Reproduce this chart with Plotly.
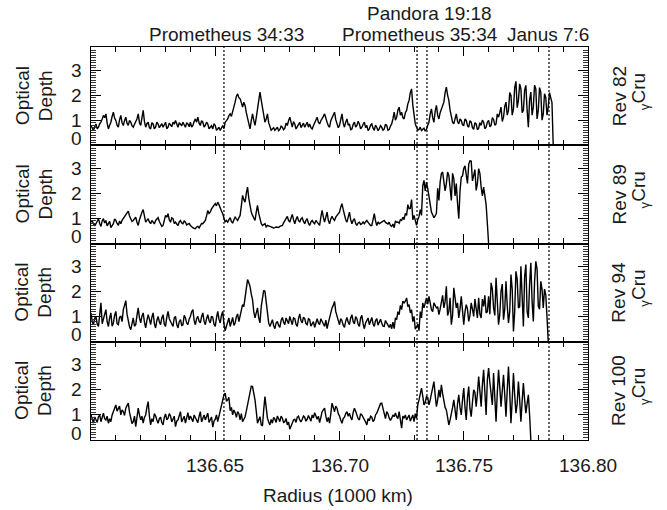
import plotly.graph_objects as go
from plotly.subplots import make_subplots

# ---------------- data ----------------
# Each profile is read at radii RADIUS_START + i*RADIUS_STEP (TAU_xx) and at
# the half-way radii RADIUS_START + (i+0.5)*RADIUS_STEP (TAU_xx_MID).
RADIUS_START = 136.600   # 1000 km
RADIUS_STEP = 0.001      # 1000 km

TAU_82 = [
    0.79, 0.59, 0.85, 0.72, 0.92, 1.19, 1.25, 0.65, 0.92, 1.32,
    0.99, 0.72, 1.19, 0.79, 1.12, 0.79, 0.92, 0.72, 0.92, 1.25,
    0.79, 1.39, 0.72, 0.92, 0.65, 0.85, 0.72, 0.85, 0.79, 0.72,
    0.92, 0.72, 0.79, 0.92, 0.99, 0.72, 0.85, 0.92, 0.72, 0.85,
    0.92, 0.79, 1.05, 1.12, 0.79, 0.92, 0.79, 0.85, 0.72, 0.65,
    0.79, 0.65, 0.59, 0.79, 0.92, 1.05, 1.25, 1.32, 1.72, 2.05,
    1.85, 1.52, 1.59, 1.05, 0.65, 1.25, 0.79, 1.45, 2.12, 1.52,
    0.92, 1.25, 0.72, 0.65, 0.59, 0.72, 0.63, 0.72, 0.68, 0.79,
    1.12, 0.72, 0.85, 0.72, 0.92, 0.79, 0.72, 0.92, 0.85, 0.65,
    0.92, 1.12, 0.85, 1.05, 1.25, 0.92, 0.72, 1.12, 1.32, 0.85,
    0.79, 1.25, 0.72, 1.05, 0.85, 0.65, 0.92, 0.79, 0.85, 0.72,
    0.92, 0.79, 0.65, 0.85, 0.59, 0.72, 0.65,
    0.72, 0.65, 0.79, 0.63, 0.85, 1.32, 1.12, 1.52, 1.32, 1.05,
    1.39, 1.79, 2.25, 1.12, 0.72, 0.63, 0.59, 0.68, 0.63, 0.92,
    1.45, 0.92, 1.59, 1.05, 1.45, 1.72, 2.32, 1.79, 1.12, 0.85,
    1.25, 0.85, 0.99, 0.79, 0.99, 0.72, 0.92, 0.63, 0.85, 0.68,
    0.79, 0.92, 0.72, 0.99, 0.79, 1.03, 0.85, 1.12, 1.52, 1.12,
    1.72, 1.39, 1.99, 1.45, 2.55, 1.79, 2.25, 1.39, 2.39, 0.72,
    2.12, 1.52, 2.25, 1.39, 2.12, 1.25, 1.92, 1.52, 1.85, 0.00,
]
TAU_82_MID = [
    0.70, 0.74, 0.66, 0.86, 1.05, 1.10, 0.88, 0.80, 1.15, 1.08,
    0.80, 1.02, 0.90, 0.98, 0.88, 0.99, 0.78, 0.84, 1.05, 0.90,
    1.10, 0.95, 0.86, 0.70, 0.90, 0.66, 0.92, 0.70, 0.86, 0.82,
    0.66, 0.88, 0.74, 0.84, 0.80, 0.90, 0.78, 0.80, 0.90, 0.74,
    0.72, 0.95, 0.92, 0.88, 0.98, 0.72, 0.92, 0.66, 0.78, 0.86,
    0.60, 0.72, 0.70, 0.66, 0.98, 1.18, 1.15, 1.50, 1.95, 1.90,
    1.70, 1.72, 1.30, 0.80, 0.98, 1.00, 1.10, 1.85, 1.80, 1.10,
    1.05, 0.90, 0.60, 0.70, 0.66, 0.58, 0.76, 0.62, 0.88, 0.98,
    0.92, 0.94, 0.65, 0.82, 0.70, 0.88, 0.80, 0.72, 0.70, 0.78,
    1.00, 0.92, 0.98, 1.15, 1.02, 0.78, 0.98, 1.22, 1.02, 0.70,
    1.05, 0.88, 0.92, 0.80, 0.62, 0.84, 0.72, 0.96, 0.66, 0.84,
    0.70, 0.58, 0.80, 0.68, 0.80, 0.58, 0.78, 0.60, 0.84, 0.60,
    0.76, 1.05, 1.00, 1.40, 1.20, 1.10, 1.30, 1.65, 2.10, 1.60,
    0.85, 0.60, 0.72, 0.62, 0.56, 0.80, 1.25, 1.10, 1.35, 1.20,
    1.30, 1.55, 2.10, 2.00, 1.40, 0.92, 1.10, 0.95, 1.05, 0.82,
    1.05, 0.78, 0.98, 0.70, 0.90, 0.62, 0.90, 1.00, 0.66, 0.92,
    0.74, 1.10, 0.80, 1.25, 1.30, 0.95, 1.55, 1.20, 2.10, 1.20,
    2.30, 1.50, 2.45, 1.30, 2.20, 1.40, 1.80, 1.20, 2.40, 1.05,
    2.30, 1.00, 2.05, 1.20, 2.10, 1.70,
]

TAU_89 = [
    0.85, 0.79, 0.79, 0.99, 0.68, 0.99, 0.92, 0.79, 0.63, 0.79,
    0.92, 0.72, 0.79, 0.99, 1.12, 1.29, 0.99, 0.92, 1.05, 0.72,
    1.12, 1.35, 0.85, 0.99, 0.79, 0.85, 0.92, 1.03, 0.79, 0.72,
    1.12, 1.19, 0.85, 0.99, 0.85, 0.72, 0.92, 0.79, 0.85, 0.79,
    0.72, 0.63, 0.59, 0.68, 0.72, 0.79, 0.92, 1.32, 1.25, 1.45,
    1.59, 1.65, 1.39, 1.19, 0.85, 0.85, 1.03, 0.81, 1.05, 0.92,
    1.12, 1.92, 1.65, 2.25, 1.45, 1.12, 0.92, 1.52, 0.99, 0.72,
    0.79, 0.72, 0.68, 0.65, 0.63, 0.65, 0.68, 0.72, 0.92, 1.08,
    0.85, 1.16, 0.79, 1.08, 0.85, 1.03, 0.79, 0.99, 0.72, 0.92,
    0.79, 0.85, 0.72, 1.32, 0.85, 1.25, 0.79, 1.08, 0.92, 1.12,
    1.25, 1.59, 1.12, 0.85, 1.25, 0.79, 0.99, 0.72, 0.85, 0.79,
    0.79, 0.92, 0.79, 0.72, 1.19, 0.72, 0.79,
    0.85, 0.92, 0.79, 0.85, 0.68, 0.63, 0.85, 0.81, 0.92, 0.95,
    1.12, 1.39, 1.75, 1.12, 0.72, 1.08, 1.12, 2.52, 2.45, 1.85,
    1.25, 1.03, 1.21, 1.72, 2.79, 2.55, 2.39, 2.72, 1.72, 2.59,
    2.39, 0.99, 2.65, 2.99, 2.65, 3.16, 3.29, 2.72, 2.12, 2.99,
    2.25, 2.25, 1.55, 0.00,
]
TAU_89_MID = [
    0.90, 0.70, 0.92, 0.80, 0.90, 0.82, 0.70, 0.88, 0.74, 0.98,
    0.80, 0.90, 0.92, 1.05, 1.20, 1.10, 0.88, 0.98, 0.85, 0.95,
    1.25, 1.05, 0.92, 0.86, 0.92, 0.78, 1.00, 0.88, 0.68, 0.95,
    1.05, 0.95, 1.02, 0.80, 0.78, 0.86, 0.82, 0.90, 0.74, 0.80,
    0.66, 0.60, 0.66, 0.62, 0.80, 0.86, 1.10, 1.20, 1.38, 1.55,
    1.50, 1.55, 1.30, 1.00, 0.92, 0.95, 0.88, 0.95, 0.98, 1.02,
    1.50, 1.75, 2.00, 1.80, 1.25, 1.00, 1.25, 1.20, 0.80, 0.74,
    0.66, 0.70, 0.64, 0.62, 0.66, 0.64, 0.70, 0.82, 1.00, 0.92,
    1.02, 0.95, 0.96, 0.92, 0.98, 0.88, 0.92, 0.80, 0.86, 0.84,
    0.92, 0.76, 1.05, 1.05, 1.05, 0.92, 0.98, 0.98, 1.05, 1.20,
    1.45, 1.35, 0.95, 1.05, 0.95, 0.92, 0.80, 0.82, 0.76, 0.86,
    0.86, 0.84, 0.72, 1.00, 0.90, 0.86, 0.82, 0.86, 0.84, 0.78,
    0.72, 0.78, 0.90, 0.86, 0.95, 1.05, 1.20, 1.55, 1.40, 0.95,
    0.88, 0.95, 1.35, 2.30, 2.10, 2.20, 1.50, 1.15, 1.10, 2.20,
    2.45, 2.85, 2.10, 2.85, 2.20, 2.80, 1.90, 1.60, 2.10, 2.70,
    3.10, 2.40, 3.30, 2.50, 2.95, 2.40, 2.80, 1.90, 1.95, 0.80,
]

TAU_94 = [
    1.15, 0.68, 1.01, 0.61, 1.55, 0.88, 1.28, 0.61, 1.15, 0.75,
    1.21, 0.68, 1.01, 1.28, 1.64, 0.81, 0.48, 0.95, 0.68, 1.35,
    0.75, 1.15, 0.55, 1.08, 0.68, 1.15, 0.55, 1.01, 0.68, 1.08,
    0.61, 1.21, 0.81, 0.61, 1.01, 0.55, 0.88, 0.68, 0.95, 0.68,
    1.01, 1.28, 0.68, 1.01, 0.75, 1.15, 0.68, 1.08, 0.75, 0.97,
    0.61, 1.21, 0.75, 1.21, 0.44, 0.75, 0.61, 0.97, 0.75, 1.11,
    1.01, 1.48, 1.75, 2.48, 2.21, 1.68, 0.95, 1.35, 0.75, 1.81,
    2.01, 1.01, 0.61, 0.88, 0.52, 0.81, 0.57, 0.97, 0.68, 0.84,
    1.01, 0.68, 0.92, 0.61, 1.11, 0.75, 0.92, 0.68, 0.88, 0.71,
    0.57, 0.92, 0.68, 0.81, 0.61, 0.52, 0.97, 1.35, 1.61, 1.01,
    0.68, 0.84, 0.57, 0.97, 0.68, 1.08, 0.71, 0.92, 0.61, 1.05,
    0.52, 0.84, 0.68, 0.97, 0.61, 0.92, 0.75,
    0.75, 0.61, 0.75, 0.57, 0.52, 0.52, 0.88, 1.08, 1.28, 1.55,
    1.75, 1.48, 1.28, 1.01, 0.61, 0.44, 0.95, 1.35, 1.75, 1.81,
    1.28, 1.55, 1.35, 1.08, 1.68, 1.35, 2.21, 1.21, 0.68, 2.15,
    1.35, 0.95, 1.81, 0.68, 1.48, 0.81, 1.55, 1.01, 1.35, 1.75,
    0.95, 1.41, 1.15, 1.81, 2.35, 1.35, 2.55, 0.68, 2.01, 0.88,
    2.41, 0.75, 2.68, 0.41, 2.81, 1.35, 3.01, 0.61, 3.08, 0.95,
    3.15, 0.81, 3.21, 1.41, 2.41, 1.35, 1.88, 0.00,
]
TAU_94_MID = [
    0.80, 0.95, 0.70, 1.10, 0.72, 1.10, 0.80, 0.95, 0.62, 1.05,
    0.72, 0.98, 0.80, 1.45, 1.10, 0.60, 0.80, 0.62, 1.05, 0.95,
    1.02, 0.78, 0.85, 0.90, 0.98, 0.72, 0.85, 0.80, 0.95, 0.70,
    0.98, 0.92, 0.70, 0.95, 0.70, 0.80, 0.65, 1.05, 0.75, 0.90,
    1.20, 0.85, 0.92, 0.82, 1.00, 0.82, 0.92, 0.85, 1.02, 0.70,
    0.95, 0.90, 1.05, 0.70, 0.62, 0.95, 0.85, 0.65, 1.00, 0.80,
    1.25, 1.40, 2.10, 2.35, 1.90, 1.20, 1.15, 0.95, 1.40, 2.05,
    1.60, 0.75, 0.78, 0.65, 0.75, 0.65, 0.85, 0.78, 0.95, 0.72,
    0.85, 0.95, 0.70, 0.92, 0.85, 0.98, 0.72, 0.92, 0.62, 0.80,
    0.78, 0.75, 0.92, 0.68, 0.86, 0.75, 1.15, 1.45, 1.20, 0.80,
    0.92, 0.66, 0.82, 0.78, 0.95, 0.80, 1.00, 0.70, 0.95, 0.72,
    0.75, 0.95, 0.80, 0.72, 0.85, 0.66, 0.90, 0.62, 0.85, 0.66,
    0.70, 0.78, 0.95, 1.20, 1.45, 1.62, 1.62, 1.40, 1.15, 0.80,
    0.50, 0.70, 1.20, 1.55, 1.60, 1.50, 1.55, 1.20, 1.45, 1.40,
    1.30, 1.85, 1.60, 1.05, 1.75, 1.05, 1.60, 1.55, 1.30, 1.25,
    1.20, 1.30, 1.05, 1.30, 1.70, 0.95, 1.10, 1.70, 1.85, 1.20,
    1.10, 2.10, 1.05, 1.80, 1.10, 2.30, 1.30, 1.45, 1.20, 2.10,
    1.20, 2.50, 1.40, 1.80, 2.60, 1.20, 2.30, 1.60, 2.40, 2.90,
    1.30, 2.10, 2.10, 1.00,
]

TAU_100 = [
    1.00, 0.67, 0.80, 0.93, 0.73, 1.07, 0.80, 0.67, 0.73, 1.13,
    1.40, 1.27, 1.00, 1.13, 1.27, 1.47, 0.87, 0.73, 0.53, 1.27,
    0.80, 0.67, 1.00, 1.53, 0.60, 0.73, 0.96, 0.67, 0.91, 0.60,
    1.04, 0.87, 0.96, 0.83, 0.53, 0.80, 1.13, 0.87, 0.67, 1.09,
    0.96, 0.73, 0.87, 0.69, 1.13, 0.87, 0.80, 1.07, 0.80, 0.51,
    0.83, 0.73, 1.13, 1.60, 1.87, 1.60, 1.17, 1.00, 1.09, 1.13,
    0.80, 0.73, 0.93, 1.40, 2.00, 2.13, 1.60, 0.67, 0.93, 0.56,
    1.73, 0.87, 0.60, 0.67, 0.83, 0.96, 0.73, 0.87, 0.73, 0.60,
    0.43, 0.67, 0.83, 0.91, 0.80, 0.83, 0.91, 0.83, 0.87, 1.00,
    1.09, 0.83, 0.69, 1.13, 1.27, 0.73, 0.67, 1.47, 1.13, 1.27,
    0.96, 0.67, 0.91, 1.13, 1.07, 0.80, 1.27, 1.00, 0.80, 1.00,
    0.83, 0.60, 0.77, 0.91, 0.80, 1.07, 1.27,
    1.47, 1.00, 1.13, 0.87, 0.87, 0.93, 0.93, 1.13, 0.47, 0.87,
    0.80, 1.00, 0.87, 0.73, 0.87, 1.60, 2.07, 1.40, 1.73, 1.40,
    1.87, 2.33, 1.33, 2.00, 2.20, 1.47, 1.20, 0.60, 1.00, 1.60,
    0.80, 1.80, 1.00, 2.07, 0.80, 2.13, 0.93, 2.00, 1.33, 2.53,
    1.33, 2.80, 1.00, 2.87, 1.73, 2.67, 0.73, 2.80, 1.33, 2.60,
    0.93, 2.93, 0.67, 2.67, 1.07, 2.33, 0.73, 2.27, 1.07, 1.80,
    0.00,
]
TAU_100_MID = [
    0.78, 0.92, 0.70, 1.00, 0.90, 0.85, 0.95, 0.85, 1.00, 1.25,
    1.15, 1.35, 1.20, 0.98, 1.35, 1.10, 0.65, 0.95, 0.85, 1.00,
    0.95, 0.90, 1.30, 0.95, 0.85, 1.05, 0.80, 0.85, 0.70, 0.90,
    0.80, 1.05, 0.72, 0.95, 0.75, 1.00, 0.72, 0.95, 0.95, 0.80,
    0.85, 1.00, 0.75, 0.95, 0.72, 1.00, 0.95, 0.70, 0.92, 0.75,
    1.00, 0.95, 1.40, 1.80, 1.55, 1.70, 1.30, 1.20, 0.90, 1.05,
    1.05, 0.85, 1.15, 1.75, 2.15, 1.90, 1.15, 0.80, 0.60, 1.20,
    1.30, 0.72, 0.82, 0.90, 0.70, 0.85, 0.95, 0.70, 0.86, 0.72,
    0.55, 0.80, 0.70, 0.95, 0.72, 0.96, 0.75, 0.98, 0.75, 0.88,
    0.95, 0.95, 0.90, 1.20, 0.95, 0.90, 1.05, 1.30, 1.35, 1.05,
    0.80, 0.86, 1.05, 0.95, 0.90, 1.10, 1.15, 0.85, 1.05, 0.92,
    0.72, 0.85, 0.95, 0.74, 1.00, 1.20, 1.45, 1.25, 0.85, 1.05,
    0.78, 1.00, 1.08, 0.85, 0.75, 0.95, 1.00, 0.90, 0.75, 1.00,
    1.05, 1.40, 1.85, 1.75, 1.50, 1.70, 1.60, 2.10, 1.80, 1.60,
    1.70, 1.85, 1.30, 0.95, 0.80, 1.30, 1.20, 1.45, 1.30, 1.60,
    1.30, 1.70, 1.25, 1.50, 1.90, 1.85, 1.95, 2.20, 1.90, 2.40,
    2.30, 1.40, 1.80, 1.90, 2.10, 1.95, 1.80, 2.00, 1.90, 1.60,
    1.80, 1.45, 1.60, 1.55, 1.60, 1.45, 1.00,
]

REV_LABELS = ["Rev 82", "Rev 89", "Rev 94", "Rev 100"]
STAR_LABEL = "<sub>γ</sub>Cru"
PROFILES = [(TAU_82, TAU_82_MID), (TAU_89, TAU_89_MID),
            (TAU_94, TAU_94_MID), (TAU_100, TAU_100_MID)]

RESONANCE_RADII = [136.6535, 136.7312, 136.7352, 136.7843]
RESONANCE_NAMES = ["Prometheus 34:33", "Pandora 19:18", "Prometheus 35:34", "Janus 7:6"]

X_TICK_LABELS = [136.65, 136.70, 136.75, 136.80]
X_MAJOR_TICKS = [136.60, 136.65, 136.70, 136.75, 136.80]
X_MINOR_TICKS = [round(136.60 + 0.01 * k, 2) for k in range(1, 20) if k % 5]
Y_TICK_LABELS = [0, 1, 2, 3]
Y_MINOR_TICKS = [round(0.1 * k, 1) for k in range(1, 39) if k % 10]

# ---------------- figure ----------------
FONT = "Liberation Sans, Arial, Helvetica, sans-serif"
TXT = "#1a1a1a"
W, H = 667, 510
ML, MR, MT, MB = 91, 79, 47, 70
PW, PH = W - ML - MR, H - MT - MB


def px_x(p):
    return (p - ML) / PW


def px_y(p):
    return (H - MB - p) / PH


def merge(grid_vals, mid_vals):
    xs, ys = [], []
    for i, v in enumerate(grid_vals):
        xs.append(RADIUS_START + RADIUS_STEP * i)
        ys.append(v)
        if i < len(mid_vals):
            xs.append(RADIUS_START + RADIUS_STEP * (i + 0.5))
            ys.append(mid_vals[i])
    return xs, ys


fig = make_subplots(rows=4, cols=1, shared_xaxes=True, vertical_spacing=0)

for k, (grid_vals, mid_vals) in enumerate(PROFILES):
    xs, ys = merge(grid_vals, mid_vals)
    fig.add_trace(
        go.Scatter(x=xs, y=ys, mode="lines",
                   line=dict(color="black", width=1.4), showlegend=False,
                   hoverinfo="skip"),
        row=k + 1, col=1)

fig.update_xaxes(
    range=[136.6, 136.8], showline=True, linecolor="black", linewidth=1.3,
    mirror="allticks", ticks="inside", ticklen=9, tickwidth=1,
    tickcolor="black", tickmode="array", tickvals=X_MAJOR_TICKS,
    showticklabels=False, showgrid=False, zeroline=False,
    minor=dict(tickmode="array", tickvals=X_MINOR_TICKS, ticks="inside",
               ticklen=5, tickwidth=1, tickcolor="black", showgrid=False),
)

fig.update_yaxes(
    range=[0, 3.92], showline=True, linecolor="black", linewidth=1.3,
    mirror="allticks", ticks="inside", ticklen=10, tickwidth=1,
    tickcolor="black", tickmode="array", tickvals=Y_TICK_LABELS,
    showticklabels=False, showgrid=False, zeroline=False,
    minor=dict(tickmode="array", tickvals=Y_MINOR_TICKS, ticks="inside",
               ticklen=5, tickwidth=1, tickcolor="#333333", showgrid=False),
)

shapes = []
for r in RESONANCE_RADII:
    shapes.append(dict(type="line", xref="x", yref="paper", x0=r, x1=r,
                       y0=0, y1=1, line=dict(color="black", width=1.2,
                                             dash="2px,2px")))

ann = []
f19 = dict(family=FONT, size=19, color=TXT)
top_pos = [(226, 35), (429, 14), (420, 35), (548, 35)]
for name, (cx, cy) in zip(RESONANCE_NAMES, top_pos):
    ann.append(dict(text=name, xref="paper", yref="paper", x=px_x(cx),
                    y=px_y(cy), xanchor="center", yanchor="middle",
                    showarrow=False, font=f19))

for v in X_TICK_LABELS:
    ann.append(dict(text=f"{v:.2f}", xref="x", yref="paper", x=v,
                    y=px_y(465), xanchor="center", yanchor="middle",
                    showarrow=False, font=f19))

panel_h = PH / 4
for k in range(4):
    yref = "y" if k == 0 else f"y{k + 1}"
    cy = MT + panel_h * (k + 0.5)
    for v in Y_TICK_LABELS:
        ann.append(dict(text=str(v), xref="paper", yref=yref, x=px_x(84),
                        y=v, xanchor="right", yanchor="middle",
                        yshift=7 if v == 0 else 0, showarrow=False, font=f19))
    ann.append(dict(text="Optical", xref="paper", yref="paper", x=px_x(22),
                    y=px_y(cy), textangle=-90, xanchor="center",
                    yanchor="middle", showarrow=False, font=f19))
    ann.append(dict(text="Depth", xref="paper", yref="paper", x=px_x(45),
                    y=px_y(cy), textangle=-90, xanchor="center",
                    yanchor="middle", showarrow=False, font=f19))
    ann.append(dict(text=REV_LABELS[k], xref="paper", yref="paper",
                    x=px_x(619), y=px_y(cy), textangle=-90, xanchor="center",
                    yanchor="middle", showarrow=False, font=f19))
    ann.append(dict(text=STAR_LABEL, xref="paper", yref="paper",
                    x=px_x(640), y=px_y(cy - 4), textangle=-90,
                    xanchor="center", yanchor="middle", showarrow=False,
                    font=f19))

ann.append(dict(text="Radius (1000 km)", xref="paper", yref="paper",
                x=px_x(338), y=px_y(495), xanchor="center", yanchor="middle",
                showarrow=False, font=f19))

fig.update_layout(
    width=W, height=H, margin=dict(l=ML, r=MR, t=MT, b=MB, pad=0),
    paper_bgcolor="white", plot_bgcolor="white", shapes=shapes,
    annotations=ann, showlegend=False, font=dict(family=FONT, color=TXT),
)

fig.write_html("out.html")
